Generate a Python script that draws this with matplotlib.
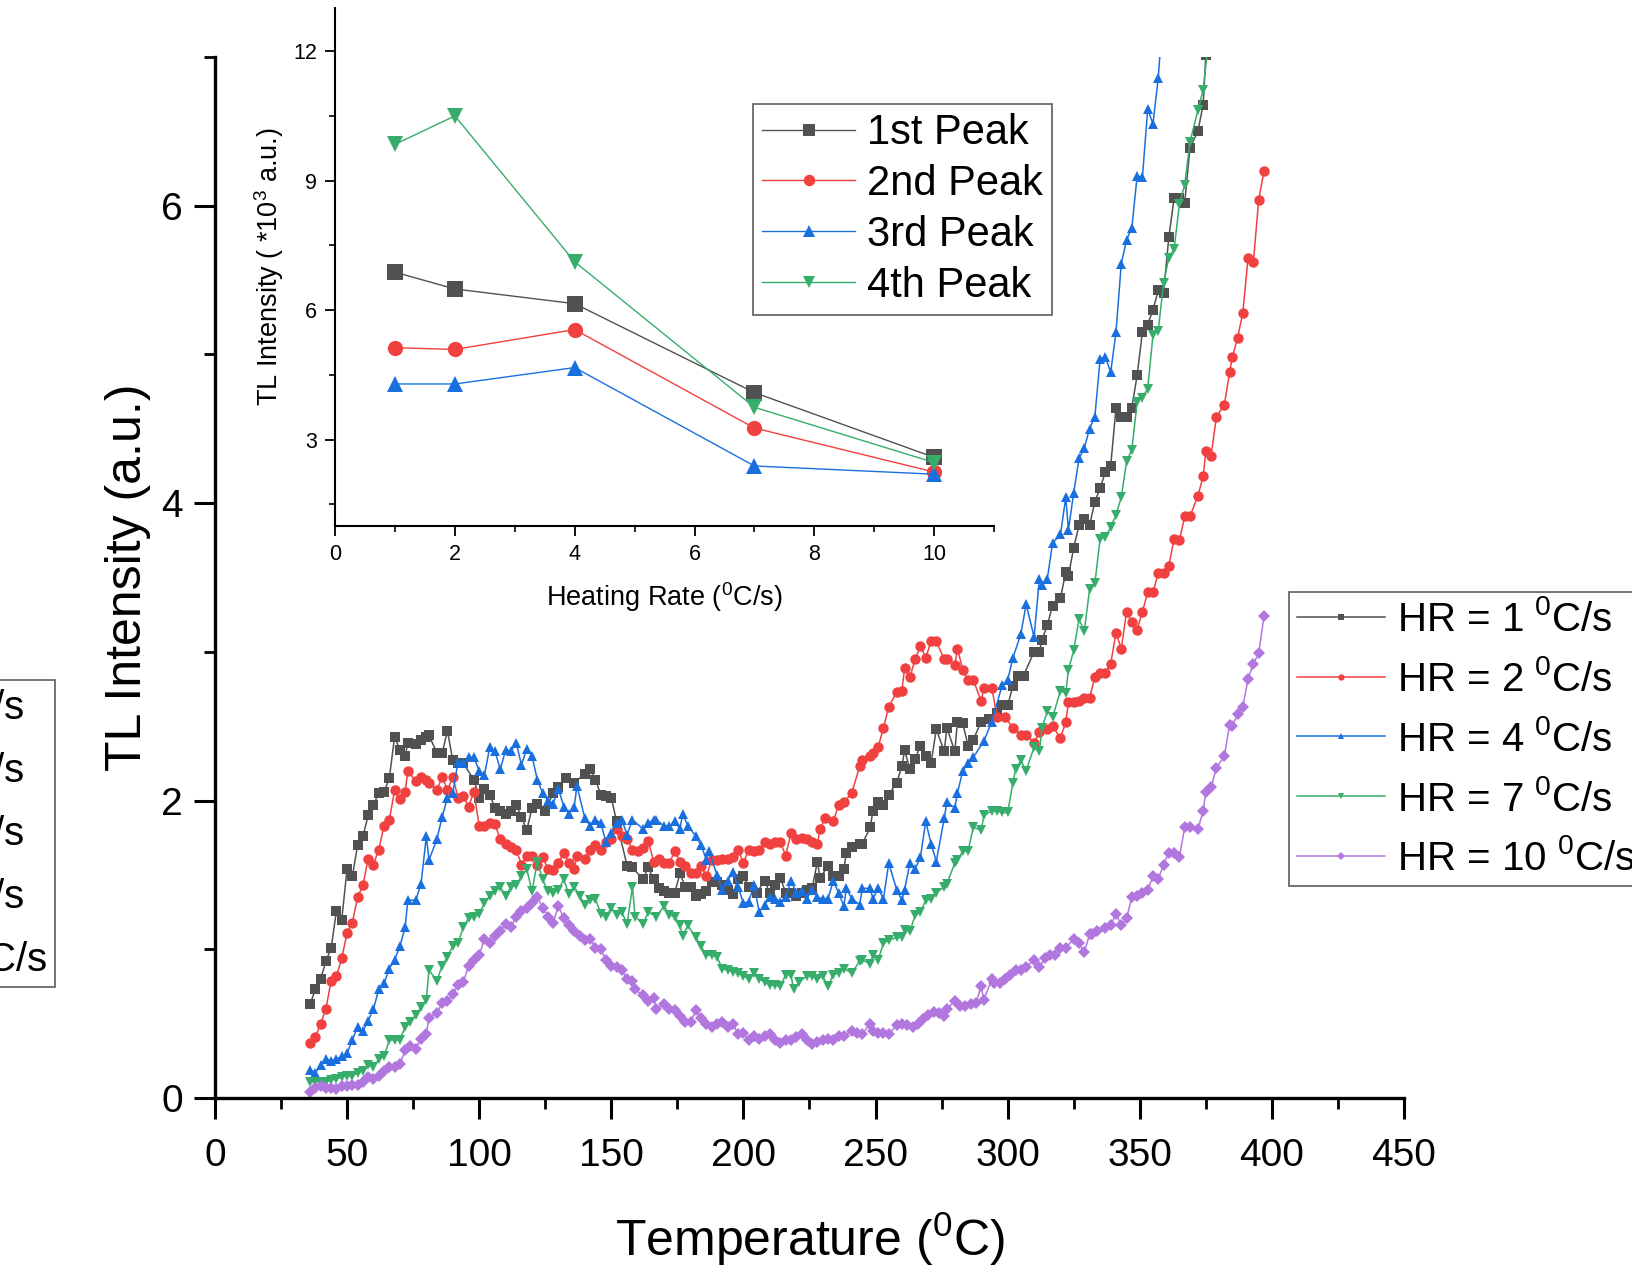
import matplotlib
matplotlib.use('Agg')
import matplotlib.pyplot as plt

plt.rcParams['font.family'] = ['Liberation Sans', 'DejaVu Sans']
plt.rcParams['mathtext.default'] = 'regular'

# ---- main TL glow curves (Temperature in C, intensity a.u.) ----
t_hr1 = [36, 38, 40, 42, 44, 46, 48, 50, 52, 54, 56, 58, 60, 62, 64, 66, 68, 70, 72, 73,
         76, 78, 80, 81, 84, 86, 88, 90, 92, 94, 98, 100, 102, 104, 106, 108, 110, 112, 114, 116,
         118, 120, 122, 125, 128, 130, 133, 136, 140, 142, 144, 146, 148, 150, 152, 156, 158, 162, 164, 166,
         168, 170, 172, 174, 176, 178, 180, 182, 184, 186, 188, 190, 192, 194, 196, 198, 200, 202, 205, 208,
         210, 212, 214, 216, 218, 220, 222, 224, 226, 228, 229, 232, 234, 236, 238, 239, 241, 244, 245, 248,
         249, 251, 253, 255, 258, 260, 261, 263, 265, 267, 269, 271, 273, 276, 277, 280, 281, 283, 285, 287,
         290, 293, 296, 298, 300, 302, 304, 306, 310, 312, 313, 315, 317, 320, 322, 323, 325, 327, 329, 331,
         333, 335, 337, 339, 341, 343, 345, 347, 349, 351, 353, 355, 357, 359, 361, 363, 365, 367, 369, 372,
         374, 375]
i_hr1 = [0.63, 0.73, 0.80, 0.92, 1.01, 1.26, 1.20, 1.54, 1.49, 1.70, 1.76, 1.90, 1.97, 2.05, 2.06, 2.15, 2.43, 2.34, 2.30, 2.39,
         2.38, 2.41, 2.43, 2.44, 2.32, 2.32, 2.47, 2.27, 2.25, 2.25, 2.14, 2.02, 2.08, 2.04, 1.95, 1.93, 1.91, 1.93, 1.97, 1.89,
         1.80, 1.95, 1.98, 1.93, 2.05, 2.09, 2.15, 2.12, 2.18, 2.21, 2.14, 2.04, 2.03, 2.02, 1.86, 1.56, 1.55, 1.47, 1.55, 1.47,
         1.41, 1.39, 1.38, 1.38, 1.51, 1.42, 1.42, 1.36, 1.37, 1.39, 1.45, 1.45, 1.43, 1.40, 1.37, 1.47, 1.49, 1.42, 1.38, 1.46,
         1.38, 1.43, 1.48, 1.38, 1.38, 1.36, 1.38, 1.40, 1.41, 1.59, 1.48, 1.56, 1.49, 1.49, 1.54, 1.65, 1.69, 1.71, 1.71, 1.82,
         1.93, 1.99, 1.97, 2.04, 2.12, 2.23, 2.34, 2.21, 2.28, 2.37, 2.30, 2.25, 2.48, 2.33, 2.49, 2.33, 2.53, 2.52, 2.37, 2.41,
         2.53, 2.55, 2.59, 2.64, 2.64, 2.77, 2.84, 2.84, 3.00, 3.00, 3.08, 3.18, 3.31, 3.36, 3.54, 3.51, 3.70, 3.85, 3.89, 3.85,
         4.01, 4.10, 4.21, 4.25, 4.64, 4.58, 4.58, 4.64, 4.86, 5.15, 5.20, 5.30, 5.43, 5.41, 5.79, 6.05, 6.05, 6.02, 6.39, 6.50,
         6.68, 7.01]

t_hr2 = [36, 38, 40, 42, 44, 46, 48, 50, 52, 54, 56, 58, 60, 62, 64, 66, 68, 70, 72, 73,
         76, 78, 80, 81, 84, 86, 88, 90, 92, 94, 96, 98, 100, 102, 104, 106, 108, 110, 112, 114,
         116, 118, 120, 122, 124, 126, 128, 130, 132, 134, 136, 137, 140, 142, 144, 146, 148, 150, 152, 154,
         156, 158, 160, 162, 164, 166, 168, 170, 172, 174, 176, 178, 180, 182, 184, 186, 188, 190, 192, 194,
         196, 198, 200, 202, 204, 206, 208, 210, 212, 214, 216, 218, 220, 222, 224, 226, 228, 229, 231, 234,
         236, 238, 241, 244, 245, 248, 249, 251, 253, 255, 258, 260, 261, 263, 265, 267, 269, 271, 273, 276,
         277, 280, 281, 283, 285, 287, 290, 291, 294, 296, 299, 302, 305, 307, 310, 312, 315, 317, 320, 322,
         323, 325, 327, 329, 331, 333, 335, 337, 339, 341, 343, 345, 347, 349, 351, 353, 355, 357, 359, 361,
         363, 365, 367, 369, 372, 374, 375, 377, 379, 382, 384, 385, 387, 389, 391, 393, 395, 397]
i_hr2 = [0.37, 0.41, 0.50, 0.60, 0.79, 0.82, 0.94, 1.11, 1.18, 1.35, 1.43, 1.61, 1.57, 1.67, 1.83, 1.87, 2.07, 2.01, 2.06, 2.20,
         2.13, 2.16, 2.14, 2.12, 2.07, 2.16, 2.07, 2.16, 2.02, 2.03, 1.96, 2.06, 1.83, 1.83, 1.85, 1.84, 1.74, 1.71, 1.69, 1.67,
         1.57, 1.63, 1.63, 1.57, 1.62, 1.54, 1.53, 1.58, 1.65, 1.58, 1.54, 1.63, 1.61, 1.67, 1.70, 1.67, 1.72, 1.74, 1.81, 1.76,
         1.74, 1.67, 1.66, 1.68, 1.73, 1.59, 1.61, 1.58, 1.58, 1.66, 1.59, 1.56, 1.51, 1.51, 1.56, 1.49, 1.60, 1.60, 1.61, 1.61,
         1.62, 1.67, 1.58, 1.67, 1.66, 1.67, 1.72, 1.71, 1.72, 1.72, 1.63, 1.78, 1.74, 1.75, 1.74, 1.72, 1.71, 1.81, 1.88, 1.86,
         1.97, 1.99, 2.05, 2.23, 2.27, 2.30, 2.32, 2.36, 2.49, 2.63, 2.73, 2.74, 2.89, 2.83, 2.95, 3.04, 2.96, 3.07, 3.07, 2.95,
         2.95, 2.91, 3.02, 2.88, 2.81, 2.81, 2.67, 2.76, 2.76, 2.56, 2.56, 2.49, 2.44, 2.44, 2.39, 2.46, 2.48, 2.50, 2.42, 2.53,
         2.66, 2.66, 2.67, 2.69, 2.69, 2.83, 2.86, 2.86, 2.92, 3.13, 3.02, 3.27, 3.20, 3.15, 3.27, 3.40, 3.40, 3.53, 3.53, 3.58,
         3.76, 3.75, 3.91, 3.91, 4.05, 4.18, 4.35, 4.32, 4.58, 4.66, 4.88, 4.98, 5.11, 5.28, 5.65, 5.62, 6.04, 6.23]

t_hr4 = [36, 38, 40, 42, 44, 46, 48, 50, 52, 54, 56, 58, 60, 62, 64, 66, 68, 70, 72, 73,
         76, 78, 80, 81, 84, 86, 88, 90, 92, 94, 96, 98, 100, 102, 104, 106, 108, 110, 112, 114,
         116, 118, 120, 122, 124, 126, 128, 130, 132, 134, 136, 137, 140, 142, 144, 146, 148, 150, 152, 154,
         156, 158, 162, 164, 166, 167, 170, 172, 174, 176, 177, 179, 182, 184, 186, 187, 190, 192, 194, 196,
         198, 200, 202, 204, 206, 208, 210, 212, 214, 216, 218, 220, 222, 224, 226, 228, 230, 232, 234, 236,
         238, 239, 241, 244, 245, 248, 249, 251, 253, 255, 258, 260, 261, 263, 265, 267, 269, 271, 273, 276,
         277, 280, 281, 283, 285, 287, 291, 294, 298, 300, 302, 305, 307, 310, 312, 313, 315, 317, 320, 322,
         323, 325, 327, 329, 331, 333, 335, 337, 339, 341, 343, 345, 347, 349, 351, 353, 355, 357, 359]
i_hr4 = [0.19, 0.17, 0.22, 0.26, 0.25, 0.26, 0.28, 0.30, 0.39, 0.48, 0.45, 0.52, 0.60, 0.73, 0.77, 0.87, 0.93, 1.02, 1.15, 1.33,
         1.33, 1.44, 1.76, 1.60, 1.74, 1.89, 2.02, 2.05, 2.26, 2.25, 2.29, 2.29, 2.20, 2.17, 2.36, 2.33, 2.21, 2.34, 2.33, 2.39,
         2.24, 2.35, 2.30, 2.14, 2.05, 2.00, 1.98, 2.08, 1.96, 1.91, 1.96, 2.10, 1.88, 1.83, 1.87, 1.85, 1.72, 1.78, 1.85, 1.87,
         1.77, 1.87, 1.81, 1.85, 1.87, 1.87, 1.83, 1.83, 1.86, 1.81, 1.91, 1.83, 1.76, 1.70, 1.60, 1.66, 1.50, 1.40, 1.46, 1.52,
         1.42, 1.31, 1.32, 1.43, 1.25, 1.30, 1.35, 1.34, 1.32, 1.35, 1.46, 1.38, 1.39, 1.34, 1.40, 1.35, 1.34, 1.34, 1.46, 1.38,
         1.29, 1.41, 1.34, 1.30, 1.41, 1.41, 1.34, 1.41, 1.34, 1.58, 1.40, 1.33, 1.40, 1.58, 1.54, 1.62, 1.86, 1.71, 1.59, 1.88,
         1.99, 1.95, 2.05, 2.20, 2.25, 2.29, 2.40, 2.53, 2.78, 2.81, 2.96, 3.12, 3.32, 3.10, 3.49, 3.45, 3.49, 3.73, 3.79, 4.04,
         3.82, 4.07, 4.30, 4.37, 4.50, 4.58, 4.97, 4.98, 4.88, 5.15, 5.61, 5.77, 5.85, 6.20, 6.19, 6.65, 6.55, 6.86, 7.35]

t_hr7 = [36, 38, 40, 42, 44, 46, 48, 50, 52, 54, 56, 58, 60, 62, 64, 66, 68, 70, 72, 74,
         76, 78, 80, 81, 84, 86, 88, 90, 92, 94, 96, 98, 100, 102, 104, 106, 108, 110, 112, 114,
         116, 118, 120, 122, 124, 126, 128, 130, 132, 134, 136, 138, 140, 142, 144, 146, 148, 150, 152, 154,
         156, 158, 159, 162, 164, 167, 170, 172, 174, 176, 177, 179, 182, 184, 186, 188, 190, 192, 194, 196,
         198, 200, 202, 204, 206, 208, 210, 212, 214, 216, 218, 219, 221, 224, 226, 228, 230, 232, 234, 236,
         238, 241, 244, 245, 248, 249, 251, 253, 255, 258, 260, 261, 263, 265, 267, 269, 271, 273, 276, 277,
         280, 281, 283, 285, 287, 290, 291, 294, 296, 298, 300, 302, 303, 305, 307, 310, 312, 313, 315, 317,
         320, 322, 323, 325, 327, 329, 331, 333, 335, 337, 339, 341, 343, 345, 347, 349, 351, 353, 355, 357,
         359, 361, 363, 365, 367, 369, 372, 374, 376]
i_hr7 = [0.11, 0.11, 0.11, 0.11, 0.12, 0.13, 0.14, 0.15, 0.15, 0.17, 0.18, 0.22, 0.21, 0.26, 0.28, 0.39, 0.39, 0.39, 0.48, 0.51,
         0.56, 0.61, 0.66, 0.86, 0.79, 0.89, 0.95, 1.02, 1.04, 1.15, 1.21, 1.22, 1.24, 1.31, 1.36, 1.39, 1.42, 1.36, 1.42, 1.43,
         1.49, 1.54, 1.39, 1.59, 1.47, 1.39, 1.38, 1.40, 1.47, 1.37, 1.42, 1.36, 1.30, 1.33, 1.34, 1.24, 1.22, 1.28, 1.23, 1.25,
         1.17, 1.42, 1.22, 1.17, 1.25, 1.22, 1.29, 1.23, 1.22, 1.16, 1.09, 1.16, 1.08, 1.02, 0.96, 0.96, 0.95, 0.87, 0.86, 0.85,
         0.84, 0.82, 0.80, 0.84, 0.80, 0.78, 0.76, 0.76, 0.75, 0.83, 0.83, 0.73, 0.78, 0.82, 0.82, 0.80, 0.82, 0.75, 0.83, 0.84,
         0.87, 0.84, 0.92, 0.93, 0.90, 0.96, 0.93, 1.04, 1.06, 1.08, 1.08, 1.13, 1.12, 1.23, 1.25, 1.33, 1.34, 1.38, 1.42, 1.44,
         1.58, 1.60, 1.66, 1.66, 1.82, 1.80, 1.90, 1.93, 1.93, 1.92, 1.92, 2.12, 2.21, 2.27, 2.20, 2.36, 2.33, 2.49, 2.60, 2.56,
         2.74, 2.72, 2.88, 3.01, 3.22, 3.14, 3.42, 3.46, 3.76, 3.77, 3.84, 3.92, 4.04, 4.28, 4.36, 4.68, 4.71, 4.77, 5.13, 5.16,
         5.48, 5.65, 5.71, 6.01, 6.14, 6.43, 6.64, 6.78, 7.10]

t_hr10 = [36, 38, 40, 42, 44, 46, 48, 50, 52, 54, 56, 58, 60, 62, 64, 66, 68, 70, 72, 74,
          76, 78, 80, 81, 84, 86, 88, 90, 92, 94, 96, 98, 100, 102, 104, 106, 108, 110, 112, 114,
          116, 118, 120, 122, 124, 126, 128, 130, 132, 134, 136, 138, 140, 142, 144, 146, 148, 150, 152, 154,
          156, 158, 159, 162, 164, 166, 167, 170, 172, 174, 176, 178, 180, 182, 184, 186, 188, 190, 192, 194,
          196, 198, 200, 202, 204, 206, 208, 210, 212, 214, 216, 218, 220, 222, 224, 226, 228, 230, 232, 234,
          236, 238, 241, 243, 245, 248, 249, 251, 253, 255, 258, 260, 262, 264, 266, 268, 270, 272, 274, 276,
          277, 280, 282, 284, 286, 288, 290, 291, 294, 295, 297, 299, 301, 303, 305, 307, 310, 312, 314, 316,
          318, 320, 322, 325, 327, 329, 331, 332, 334, 337, 339, 341, 343, 345, 347, 349, 351, 353, 355, 357,
          359, 361, 363, 365, 367, 369, 372, 374, 375, 377, 379, 382, 384, 385, 387, 389, 391, 393, 395, 397]
i_hr10 = [0.04, 0.07, 0.08, 0.07, 0.07, 0.06, 0.08, 0.08, 0.09, 0.09, 0.11, 0.14, 0.13, 0.15, 0.18, 0.21, 0.21, 0.23, 0.32, 0.35,
          0.33, 0.40, 0.43, 0.54, 0.57, 0.64, 0.65, 0.70, 0.76, 0.78, 0.89, 0.93, 0.96, 1.07, 1.04, 1.09, 1.12, 1.17, 1.15, 1.22,
          1.26, 1.28, 1.31, 1.35, 1.28, 1.22, 1.18, 1.29, 1.21, 1.16, 1.12, 1.09, 1.06, 1.07, 1.01, 1.00, 0.93, 0.89, 0.88, 0.86,
          0.80, 0.79, 0.73, 0.69, 0.65, 0.67, 0.60, 0.63, 0.60, 0.59, 0.55, 0.51, 0.51, 0.59, 0.54, 0.50, 0.48, 0.50, 0.51, 0.48,
          0.50, 0.43, 0.44, 0.39, 0.42, 0.40, 0.42, 0.43, 0.39, 0.37, 0.39, 0.39, 0.41, 0.43, 0.39, 0.36, 0.38, 0.39, 0.40, 0.39,
          0.42, 0.42, 0.45, 0.44, 0.43, 0.50, 0.45, 0.44, 0.44, 0.43, 0.49, 0.50, 0.49, 0.48, 0.50, 0.53, 0.56, 0.58, 0.57, 0.55,
          0.60, 0.65, 0.62, 0.62, 0.63, 0.64, 0.75, 0.66, 0.80, 0.77, 0.77, 0.80, 0.83, 0.86, 0.86, 0.88, 0.93, 0.88, 0.94, 0.96,
          0.96, 1.01, 1.01, 1.07, 1.04, 0.98, 1.10, 1.10, 1.12, 1.14, 1.16, 1.24, 1.16, 1.21, 1.35, 1.36, 1.38, 1.40, 1.49, 1.47,
          1.57, 1.65, 1.65, 1.62, 1.82, 1.82, 1.81, 1.93, 2.06, 2.09, 2.22, 2.30, 2.51, 2.50, 2.58, 2.63, 2.82, 2.92, 2.99, 3.24]

hr_labels = [r'HR = 1 $^{0}$C/s', r'HR = 2 $^{0}$C/s', r'HR = 4 $^{0}$C/s',
             r'HR = 7 $^{0}$C/s', r'HR = 10 $^{0}$C/s']

# ---- inset: peak intensity vs heating rate ----
heating_rate = [1, 2, 4, 7, 10]
peak1 = [6.88, 6.49, 6.15, 4.09, 2.59]
peak2 = [5.13, 5.09, 5.55, 3.27, 2.25]
peak3 = [4.29, 4.29, 4.67, 2.39, 2.20]
peak4 = [9.84, 10.50, 7.12, 3.75, 2.47]
peak_labels = ['1st Peak', '2nd Peak', '3rd Peak', '4th Peak']

colors = ['#515151', '#F14040', '#1A6FDF', '#37AD6B', '#B177DE']
markers = ['s', 'o', '^', 'v', 'D']

fig = plt.figure(figsize=(16.32, 12.65), dpi=100)

# main axes
ax = fig.add_axes([0.1317, 0.1320, 0.7286, 0.8230])
series = [(t_hr1, i_hr1), (t_hr2, i_hr2), (t_hr4, i_hr4), (t_hr7, i_hr7), (t_hr10, i_hr10)]
handles = []
for (t, v), c, m, lab in zip(series, colors, markers, hr_labels):
    ms = 6.5 if m == 'D' else 7.5
    h, = ax.plot(t, v, color=c, marker=m, markersize=ms, linewidth=1.1,
                 markeredgewidth=0, label=lab)
    handles.append(h)

ax.set_xlim(0, 450)
ax.set_ylim(0, 7)
ax.set_xticks(range(0, 451, 50))
ax.set_xticks(range(25, 450, 50), minor=True)
ax.set_yticks([0, 2, 4, 6])
ax.set_yticks([1, 3, 5, 7], minor=True)
for s in ['top', 'right']:
    ax.spines[s].set_visible(False)
for s in ['left', 'bottom']:
    ax.spines[s].set_linewidth(2.4)
ax.tick_params(which='major', direction='out', length=15, width=2.2, labelsize=28, pad=8)
ax.tick_params(axis='x', which='major', pad=14)
ax.tick_params(which='minor', direction='out', length=8, width=2.0)
ax.set_xlabel(r'Temperature ($^{0}$C)', fontsize=36)
ax.set_ylabel('TL Intensity (a.u.)', fontsize=36)
ax.xaxis.set_label_coords(0.5, -0.107)
ax.yaxis.set_label_coords(-0.054, 0.5)

# legends (one cut off at the left edge, one at the right)
leg_kw = dict(fontsize=29, frameon=True, fancybox=False, edgecolor='#333333',
              markerscale=0.6, handlelength=2.2, handletextpad=0.3,
              borderpad=0.19, borderaxespad=0)
leg_r = fig.legend(handles=handles, loc='upper left', bbox_to_anchor=(0.7898, 0.532),
                   labelspacing=0.52, **leg_kw)
leg_l = fig.legend(handles=handles, loc='upper right', bbox_to_anchor=(0.0337, 0.4625),
                   labelspacing=0.6, **leg_kw)
for lg in (leg_r, leg_l):
    lg.get_frame().set_linewidth(1.2)

# inset axes
ins = fig.add_axes([0.2053, 0.5842, 0.4038, 0.4095])
ins.patch.set_alpha(0)
peaks = [peak1, peak2, peak3, peak4]
ins_handles = []
for p, c, m, lab in zip(peaks, colors[:4], markers[:4], peak_labels):
    h, = ins.plot(heating_rate, p, color=c, marker=m, markersize=11, linewidth=1.0,
                  markeredgewidth=0, label=lab)
    ins_handles.append(h)
ins.set_xlim(0, 11)
ins.set_ylim(1, 13)
ins.set_xticks([0, 2, 4, 6, 8, 10])
ins.set_xticks([1, 3, 5, 7, 9, 11], minor=True)
ins.set_yticks([3, 6, 9, 12])
ins.set_yticks([1.5, 4.5, 7.5, 10.5], minor=True)
for s in ['top', 'right']:
    ins.spines[s].set_visible(False)
for s in ['left', 'bottom']:
    ins.spines[s].set_linewidth(1.5)
ins.tick_params(which='major', direction='out', length=7, width=1.3, labelsize=15.5, pad=6)
ins.tick_params(which='minor', direction='out', length=4, width=1.2)
ins.set_xlabel(r'Heating Rate ($^{0}$C/s)', fontsize=19.5)
ins.set_ylabel(r'TL Intensity ( *10$^{3}$ a.u.)', fontsize=19.5)
ins.xaxis.set_label_coords(0.5, -0.105)
ins.yaxis.set_label_coords(-0.074, 0.5)

leg_i = fig.legend(handles=ins_handles, loc='upper left', bbox_to_anchor=(0.4611, 0.9178),
                   fontsize=30, frameon=True, fancybox=False, edgecolor='#333333',
                   markerscale=0.75, handlelength=2.25, handletextpad=0.28,
                   labelspacing=0.26, borderpad=0.22, borderaxespad=0)
leg_i.get_frame().set_linewidth(1.2)

fig.savefig('out.png', dpi=100, facecolor='white')
